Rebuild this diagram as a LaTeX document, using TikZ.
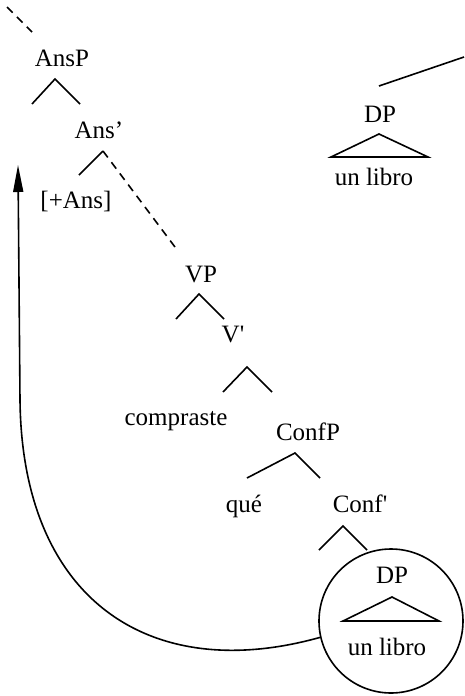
\documentclass[tikz,border=0pt]{standalone}
\usepackage{fontspec}
\setmainfont{Liberation Serif}
\usetikzlibrary{arrows.meta}
\tikzset{every node/.append style={font=\fontsize{25}{30}\selectfont,
    inner sep=0pt, anchor=base}}
\tikzset{branch/.style={line width=1.6pt}}
\tikzset{trace/.style={line width=1.6pt, dash pattern=on 8pt off 6pt}}

\begin{document}
\begin{tikzpicture}[x=1pt,y=-1pt]
  \useasboundingbox (0,0) rectangle (464,696);
  % labels (base line positions)
  \node (ansp) at (62,66) {AnsP};
  \node (ansbar) at (99,138) {Ans’};
  \node (ansf) at (76,208) {[+Ans]};
  \node (dptop) at (380,122) {DP};
  \node (libtop) at (374,185) {un libro};
  \node (vp) at (201,282) {VP};
  \node (vbar) at (233,342) {V\textquotesingle};
  \node (verb) at (176,425) {compraste};
  \node (confp) at (308,440) {ConfP};
  \node (que) at (244,512) {qué};
  \node (confbar) at (360,512) {Conf\textquotesingle};
  \node[circle, draw, line width=1.6pt, minimum size=144pt, anchor=center]
    (dpc) at (391,621) {};
  \node (dplow) at (392,583) {DP};
  \node (liblow) at (387,655) {un libro};
  % branch points
  \coordinate (up-a) at (7,7);
  \coordinate (up-b) at (32,32);
  \coordinate (ansp-l) at (32,104);
  \coordinate (ansp-a) at (55,79);
  \coordinate (ansp-r) at (80,104);
  \coordinate (ansbar-l) at (79,175);
  \coordinate (ansbar-a) at (103,151);
  \coordinate (ansbar-r) at (175,247);
  \coordinate (vp-l) at (176,319);
  \coordinate (vp-a) at (199,294);
  \coordinate (vp-r) at (224,319);
  \coordinate (vbar-l) at (223,392);
  \coordinate (vbar-a) at (247,367);
  \coordinate (vbar-r) at (272,392);
  \coordinate (confp-l) at (247,478);
  \coordinate (confp-a) at (295,453);
  \coordinate (confp-r) at (320,478);
  \coordinate (confbar-l) at (319,550);
  \coordinate (confbar-a) at (343,526);
  \coordinate (confbar-r) at (367,550);
  \coordinate (dptop-a) at (379,86);
  \coordinate (dptop-b) at (464,57);
  \coordinate (tri1-l) at (331,157);
  \coordinate (tri1-t) at (379,134);
  \coordinate (tri1-r) at (428,157);
  \coordinate (tri2-l) at (343,621);
  \coordinate (tri2-t) at (392,597);
  \coordinate (tri2-r) at (439,621);
  \coordinate (bend) at (20,400);
  \coordinate (tip) at (18,165);
  % tree
  \draw[trace] (up-a) -- (up-b);
  \draw[branch] (ansp-l) -- (ansp-a) -- (ansp-r);
  \draw[branch] (ansbar-l) -- (ansbar-a);
  \draw[trace] (ansbar-a) -- (ansbar-r);
  \draw[branch] (vp-l) -- (vp-a) -- (vp-r);
  \draw[branch] (vbar-l) -- (vbar-a) -- (vbar-r);
  \draw[branch] (confp-l) -- (confp-a) -- (confp-r);
  \draw[branch] (confbar-l) -- (confbar-a) -- (confbar-r);
  \draw[branch] (dptop-a) -- (dptop-b);
  \draw[branch] (tri1-l) -- (tri1-t) -- (tri1-r) -- cycle;
  \draw[branch] (tri2-l) -- (tri2-t) -- (tri2-r) -- cycle;
  % movement
  \draw[branch, -{Triangle[length=27pt,width=10pt]}] (dpc.193)
    .. controls (150,685) and (22,600) .. (bend) -- (tip);
\end{tikzpicture}
\end{document}
